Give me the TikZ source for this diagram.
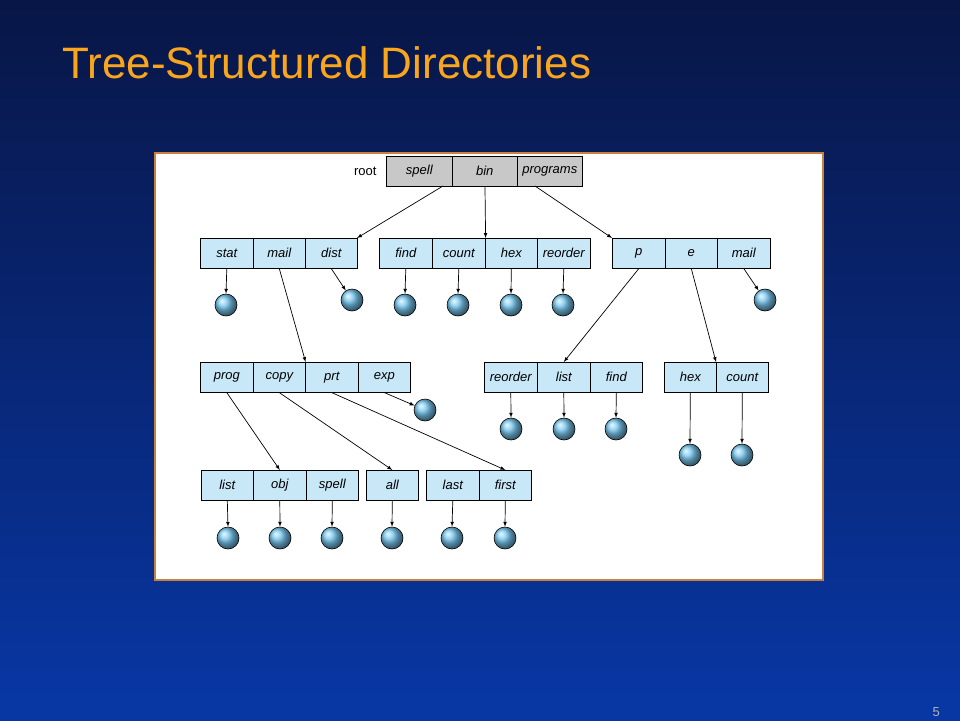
\documentclass[tikz,border=0pt]{standalone}
\usepackage{fontspec}
\setmainfont{Liberation Sans}
\begin{document}
\begin{tikzpicture}[x=1pt,y=-1pt,
  cell/.style={draw=black,line width=0.6pt,fill=cellblue,minimum height=30pt,inner sep=0pt,font=\itshape\fontsize{13}{13}\selectfont,anchor=north west},
  gcell/.style={cell,fill=cellgray},
  file/.style={circle,draw=black,line width=0.6pt,inner sep=0pt,minimum size=22pt,ball color=fileblue},
  arr/.style={-latex,line width=0.7pt}]
\definecolor{cellblue}{RGB}{200,232,248}
\definecolor{cellgray}{RGB}{200,200,200}
\definecolor{fileblue}{RGB}{120,200,240}
\definecolor{ttl}{RGB}{250,165,30}
\definecolor{topbg}{RGB}{8,22,70}
\definecolor{botbg}{RGB}{8,55,165}
\useasboundingbox (0,0) rectangle (960,720);
\shade[top color=topbg,bottom color=botbg] (0,0) rectangle (960,720);
\node[anchor=base west,text=ttl,font=\fontsize{44}{44}\selectfont,inner sep=0] (title) at (62,78) {Tree-Structured Directories};
\node[anchor=base east,text=gray!60,font=\fontsize{13}{13}\selectfont,inner sep=0] (num) at (940,716) {5};
\draw[fill=white,draw={rgb,255:red,200;green,130;blue,60},line width=2pt] (155,153) rectangle (823,580);
% root
\node[anchor=east,font=\fontsize{13}{13}\selectfont] (root) at (380,171) {root};
\node[gcell,minimum width=66pt] (rspell) at (386,156) {spell};
\node[gcell,minimum width=65pt] (rbin) at (452,156) {bin};
\node[gcell,minimum width=65pt] (rprog) at (517,156) {programs};
% row2
\foreach \n/\t/\x/\w in {stat/stat/200/53, mailA/mail/253/52, dist/dist/305/52,
  find/find/379/53, count/count/432/53, hex/hex/485/52, reorder/reorder/537/53,
  p/p/612/53, e/e/665/52, mailB/mail/717/53}
  \node[cell,minimum width=\w pt] (\n) at (\x,238) {\t};
% row3
\foreach \n/\t/\x/\w in {progc/prog/200/53, copy/copy/253/52, prt/prt/305/53, exp/exp/358/52,
  reorderB/reorder/484/53, listB/list/537/53, findB/find/590/52,
  hexB/hex/664/52, countB/count/716/52}
  \node[cell,minimum width=\w pt] (\n) at (\x,362) {\t};
% row4
\foreach \n/\t/\x/\w in {listC/list/201/52, obj/obj/253/53, spellC/spell/306/52,
  all/all/366/52, last/last/426/53, first/first/479/52}
  \node[cell,minimum width=\w pt] (\n) at (\x,470) {\t};
% files
\foreach \n/\x/\y in {f1/226/305, f2/352/300, f3/405/305, f4/458/305, f5/511/305, f6/563/305, f7/765/300,
  f8/425/410, f9/511/429, f10/564/429, f11/616/429, f12/690/455, f13/742/455,
  f14/228/538, f15/280/538, f16/332/538, f17/392/538, f18/452/538, f19/505/538}
  \node[file] (\n) at (\x,\y) {};
% connectors
\coordinate (s1) at (443,186); \coordinate (s2) at (535,186);
\coordinate (d1) at (357,238); \coordinate (d2) at (612,238);
\draw[arr] (s1) -- (d1);
\draw[arr] (rbin) -- (count.north east);
\draw[arr] (s2) -- (d2);
\draw[arr] (mailA.south) -- (copy.north east);
\draw[arr] (p.south) -- (listB.north);
\draw[arr] (e.south) -- (countB.north west);
\draw[arr] (mailB.south) -- (f7);
\draw[arr] (dist.south) -- (f2);
\draw[arr] (exp.south) -- (f8);
\draw[arr] (progc.south) -- (obj.north);
\draw[arr] (copy.south) -- (all.north);
\draw[arr] (prt.south) -- (first.north);
\foreach \a/\b in {stat/f1, find/f3, count/f4, hex/f5, reorder/f6,
  reorderB/f9, listB/f10, findB/f11, hexB/f12, countB/f13,
  listC/f14, obj/f15, spellC/f16, all/f17, last/f18, first/f19}
  \draw[arr] (\a.south) -- (\b.north);
\end{tikzpicture}
\end{document}
